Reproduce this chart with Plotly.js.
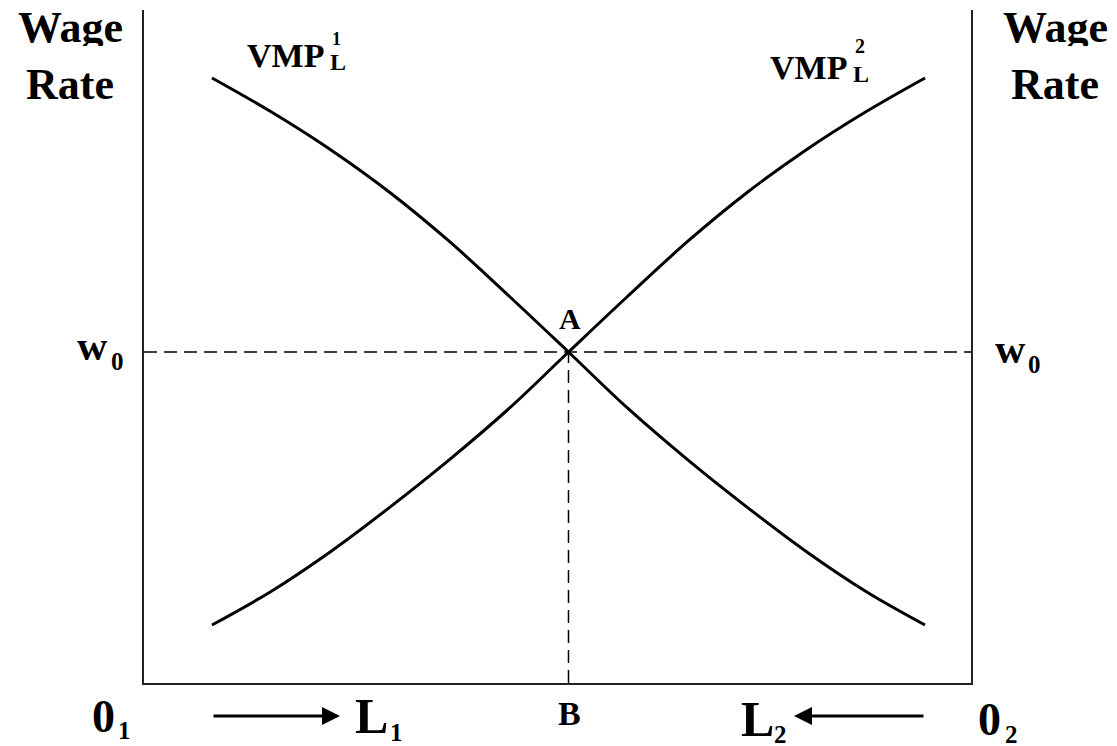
<!DOCTYPE html>
<html>
<head>
<meta charset="utf-8">
<script src="https://cdn.plot.ly/plotly-3.0.1.min.js"></script>
<style>
  html, body { margin: 0; padding: 0; background: #fff; }
  #chart { width: 1117px; height: 746px; }
</style>
</head>
<body>
<div id="chart"></div>
<script>
// curve points (labour axis 0..100, wage axis 0..100)
const vmp1X = [8.22, 15.42, 22.61, 29.81, 37.00, 44.20, 51.33, 58.52, 65.72, 72.91, 80.11, 87.30, 94.44];
const vmp1Y = [89.90, 84.84, 79.20, 72.81, 65.53, 57.43, 49.18, 40.79, 33.19, 26.14, 19.51, 13.60, 8.62];
const vmp2X = [8.22, 15.36, 22.55, 29.75, 36.94, 44.14, 51.33, 58.46, 65.66, 72.85, 80.05, 87.24, 94.44];
const vmp2Y = [8.62, 13.60, 19.51, 26.14, 33.19, 40.79, 49.18, 57.43, 65.53, 72.81, 79.20, 84.84, 89.90];

// equilibrium A: wage w0 and labour split B
const wageW0 = 49.18;
const laborB = 51.33;

const axisTitle = ['Wage', 'Rate'];

// plot area in page pixels
const PW = 1117, PH = 746;
const LEFT = 144, RIGHT = 971, TOP = 10, BOTTOM = 683;
const px = x => (x - LEFT) / (RIGHT - LEFT);
const py = y => (BOTTOM - y) / (BOTTOM - TOP);

const FONT = 'Liberation Serif, Times New Roman, serif';

function label(text, x, y, size) {
    return {
        text: text, xref: 'paper', yref: 'paper',
        x: px(x), y: py(y), xanchor: 'center', yanchor: 'middle',
        height: Math.ceil(size * 0.85), borderpad: 0,
        showarrow: false,
        font: { family: FONT, size: size, color: '#000', weight: 'bold' }
    };
}

function arrow(tipX, tailX, y) {
    return {
        text: '', xref: 'paper', yref: 'paper',
        x: px(tipX), y: py(y), ax: tailX - tipX, ay: 0,
        showarrow: true, arrowhead: 2, arrowsize: 1.2, arrowwidth: 3,
        arrowcolor: '#000', standoff: 0, startstandoff: 0
    };
}

const curveLine = { color: '#000', width: 3, shape: 'spline', smoothing: 1 };
const dashLine = { color: '#000', width: 1.5, dash: '13px,7px' };

const data = [
    { x: [0, 100], y: [wageW0, wageW0], mode: 'lines', line: dashLine, hoverinfo: 'skip' },
    { x: [laborB, laborB], y: [0, wageW0], mode: 'lines', line: dashLine, hoverinfo: 'skip' },
    { x: vmp1X, y: vmp1Y, mode: 'lines', line: curveLine, name: 'VMP1' },
    { x: vmp2X, y: vmp2Y, mode: 'lines', line: curveLine, name: 'VMP2' }
];

const annotations = [
    // axis titles on both sides
    label(axisTitle[0], 70, 27, 44), label(axisTitle[1], 70, 84, 44),
    label(axisTitle[0], 1055, 27, 44), label(axisTitle[1], 1055, 84, 44),
    // curve labels
    label('VMP', 285, 56, 34), label('L', 337.5, 62, 24), label('1', 336, 39, 18),
    label('VMP', 808.5, 67.5, 34), label('L', 860.5, 73, 24), label('2', 860, 45, 20),
    // wage w0 on both sides
    label('w', 92.5, 346, 42), label('0', 117.5, 361.5, 25),
    label('w', 1010, 349, 42), label('0', 1034, 364, 25),
    // point labels
    label('A', 570, 317.5, 30),
    label('B', 569.5, 713, 34),
    // origins and labour directions
    label('0', 103, 716, 46), label('1', 124, 729.5, 25),
    label('L', 371, 715.5, 50), label('1', 396, 732, 25),
    label('L', 757, 718, 50), label('2', 780, 734, 25),
    label('0', 990, 719, 46), label('2', 1012, 734, 25),
    arrow(340, 212, 716),
    arrow(794, 925, 716)
];

const layout = {
    width: PW, height: PH,
    margin: { l: LEFT, r: PW - RIGHT, t: TOP, b: PH - BOTTOM },
    paper_bgcolor: '#fff', plot_bgcolor: '#fff',
    showlegend: false,
    xaxis: {
        range: [0, 100], showgrid: false, zeroline: false, showticklabels: false, ticks: '',
        showline: true, linecolor: '#222', linewidth: 2, mirror: false, fixedrange: true
    },
    yaxis: {
        range: [0, 100], showgrid: false, zeroline: false, showticklabels: false, ticks: '',
        showline: true, linecolor: '#222', linewidth: 2, mirror: true, fixedrange: true
    },
    annotations: annotations
};

Plotly.newPlot('chart', data, layout, { staticPlot: true });
</script>
</body>
</html>
